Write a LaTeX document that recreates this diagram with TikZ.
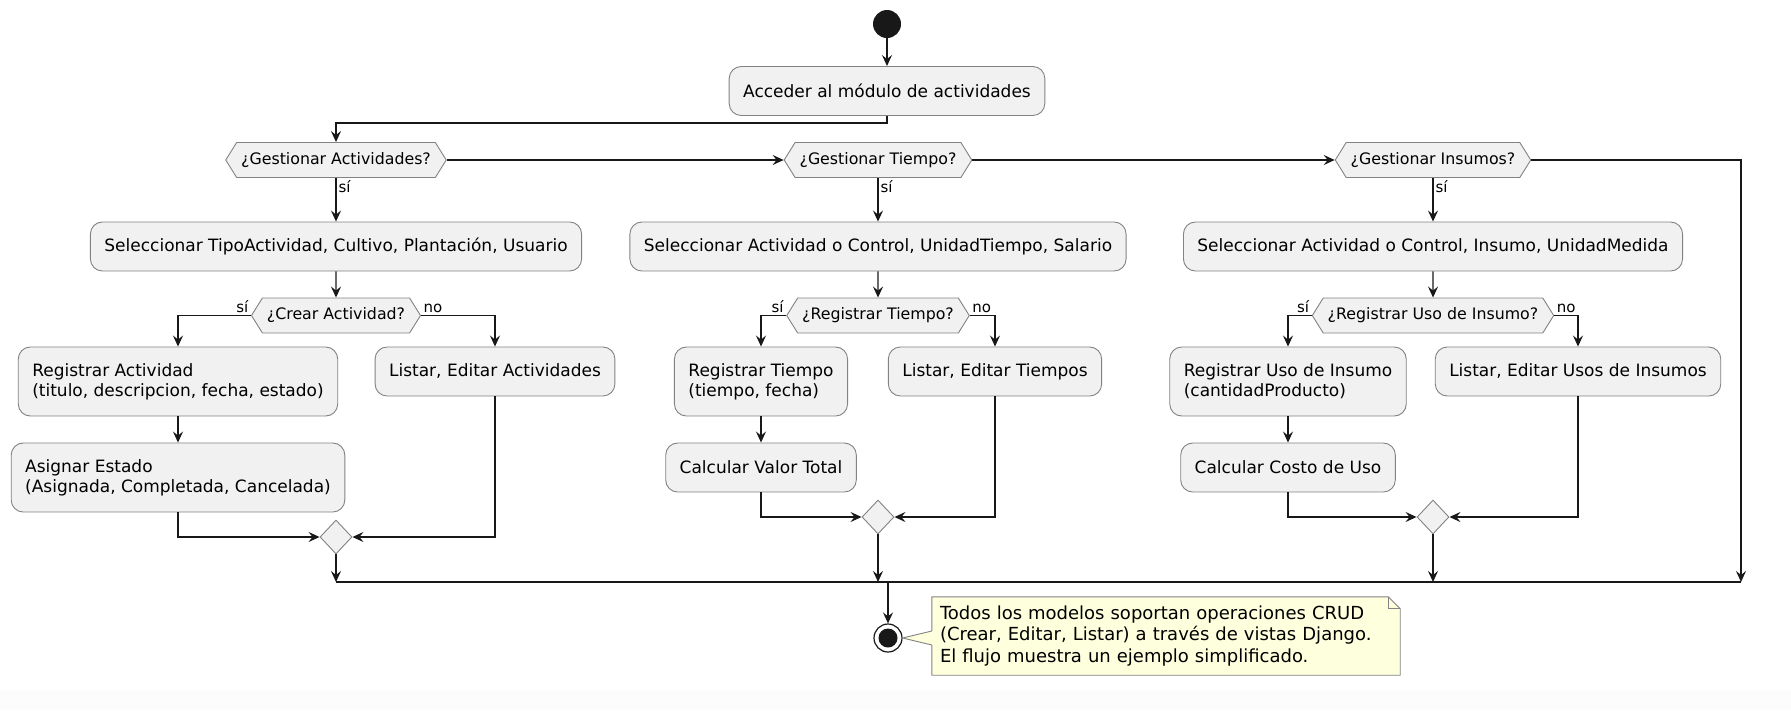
\documentclass[tikz,border=0pt]{standalone}
\usepackage{fontspec}
\setmainfont{DejaVu Sans}
\usetikzlibrary{calc, arrows.meta, positioning, shapes.geometric, shapes.symbols}

\tikzset{
    actbox/.style={rectangle, rounded corners=12pt, draw=boxline, line width=0.9pt, fill=boxfill,
        inner xsep=14pt, inner ysep=4pt, minimum height=49pt, font=\fontsize{17}{20}\selectfont},
    actboxtwo/.style={actbox, align=left, minimum height=69pt},
    question/.style={signal, signal to=east and west, signal pointer angle=116, draw=boxline,
        line width=0.9pt, fill=boxfill, inner xsep=4.5pt, inner ysep=2pt, minimum height=35pt,
        font=\fontsize{15.8}{18}\selectfont},
    merge/.style={diamond, draw=boxline, line width=0.9pt, fill=boxfill, minimum width=32pt,
        minimum height=34pt, inner sep=0pt},
    flow/.style={draw=flowline, line width=1.3pt, -{Stealth[length=11pt,width=10pt,inset=4pt]}},
    plain/.style={draw=flowline, line width=1.3pt},
    guard/.style={font=\fontsize{15}{17}\selectfont, inner sep=2pt},
    notebox/.style={rectangle, fill=notefill, text width=452pt, align=left, inner xsep=8pt,
        minimum height=78pt, font=\fontsize{18}{21.4}\selectfont}
}

\begin{document}
\begin{tikzpicture}[x=1pt, y=-1pt]
        \definecolor{boxfill}{RGB}{241, 241, 241}
        \definecolor{boxline}{RGB}{130, 130, 130}
        \definecolor{flowline}{RGB}{24, 24, 24}
        \definecolor{notefill}{RGB}{254, 255, 221}
        \useasboundingbox (0,0) rectangle (1791,710);
        \fill[black!1] (0,690) rectangle (1791,710);

        \node[circle, fill=flowline, minimum size=28pt, inner sep=0pt] (start) at (887,24) {};
        \node[actbox] (acc) at (887,91) {Acceder al módulo de actividades};

        \node[question] (ga) at (336,160) {¿Gestionar Actividades?};
        \node[question] (gt) at (878,160) {¿Gestionar Tiempo?};
        \node[question] (gi) at (1433,160) {¿Gestionar Insumos?};

        \node[actbox] (sa) at (336,246.5) {Seleccionar TipoActividad, Cultivo, Plantación, Usuario};
        \node[actbox] (st) at (878,246.5) {Seleccionar Actividad o Control, UnidadTiempo, Salario};
        \node[actbox] (si) at (1433,246.5) {Seleccionar Actividad o Control, Insumo, UnidadMedida};

        \node[question] (ca) at (336,315.5) {¿Crear Actividad?};
        \node[question] (rt) at (878,315.5) {¿Registrar Tiempo?};
        \node[question] (ru) at (1433,315.5) {¿Registrar Uso de Insumo?};

        \node[actboxtwo] (ra) at (178,381.5) {Registrar Actividad\\(titulo, descripcion, fecha, estado)};
        \node[actbox] (la) at (495,371.5) {Listar, Editar Actividades};
        \node[actboxtwo] (ae) at (178,477.5) {Asignar Estado\\(Asignada, Completada, Cancelada)};
        \node[merge] (ma) at (336,537) {};

        \node[actboxtwo] (rti) at (761,381.5) {Registrar Tiempo\\(tiempo, fecha)};
        \node[actbox] (lt) at (995,371.5) {Listar, Editar Tiempos};
        \node[actbox] (cv) at (761,467.5) {Calcular Valor Total};
        \node[merge] (mt) at (878,517) {};

        \node[actboxtwo] (ri) at (1288,381.5) {Registrar Uso de Insumo\\(cantidadProducto)};
        \node[actbox] (lu) at (1578,371.5) {Listar, Editar Usos de Insumos};
        \node[actbox] (cc) at (1288,467.5) {Calcular Costo de Uso};
        \node[merge] (mi) at (1433,517) {};

        \coordinate (barl) at (336,582);
        \coordinate (barr) at (1741,582);
        \node[circle, draw=flowline, line width=1.2pt, fill=white, minimum size=28pt, inner sep=0pt] (end) at (888,638) {};
        \fill[flowline] (end) circle (9.5);

        \draw[flow] (start) -- (acc);
        \draw[flow] (acc.south) -- ++(0,7) -| (ga.north);
        \draw[flow] (ga.east) -- (gt.west);
        \draw[flow] (gt.east) -- (gi.west);
        \draw[flow] (gi.east) -| (barr);

        \draw[flow] (ga.south) -- node[guard, anchor=north west, pos=0] {sí} (sa.north);
        \draw[flow] (gt.south) -- node[guard, anchor=north west, pos=0] {sí} (st.north);
        \draw[flow] (gi.south) -- node[guard, anchor=north west, pos=0] {sí} (si.north);
        \draw[flow] (sa) -- (ca);
        \draw[flow] (st) -- (rt);
        \draw[flow] (si) -- (ru);

        \draw[flow] (ca.west) -| node[guard, anchor=south east, pos=0] {sí} (ra.north);
        \draw[flow] (ca.east) -| node[guard, anchor=south west, pos=0] {no} (la.north);
        \draw[flow] (rt.west) -| node[guard, anchor=south east, pos=0] {sí} (rti.north);
        \draw[flow] (rt.east) -| node[guard, anchor=south west, pos=0] {no} (lt.north);
        \draw[flow] (ru.west) -| node[guard, anchor=south east, pos=0] {sí} (ri.north);
        \draw[flow] (ru.east) -| node[guard, anchor=south west, pos=0] {no} (lu.north);

        \draw[flow] (ra) -- (ae);
        \draw[flow] (rti) -- (cv);
        \draw[flow] (ri) -- (cc);
        \draw[flow] (ae.south) |- (ma.west);
        \draw[flow] (la.south) |- (ma.east);
        \draw[flow] (cv.south) |- (mt.west);
        \draw[flow] (lt.south) |- (mt.east);
        \draw[flow] (cc.south) |- (mi.west);
        \draw[flow] (lu.south) |- (mi.east);

        \draw[flow] (ma.south) -- (ma |- barl);
        \draw[flow] (mt.south) -- (mt |- barl);
        \draw[flow] (mi.south) -- (mi |- barl);
        \draw[plain] (barl) -- (barr);
        \draw[flow] (end |- barl) -- (end.north);

        \node[notebox] (note) at (1166,636) {Todos los modelos soportan operaciones CRUD\\(Crear, Editar, Listar) a través de vistas Django.\\El flujo muestra un ejemplo simplificado.};
        \fill[white] ([xshift=-12pt]note.north east) -- (note.north east) -- ([yshift=-12pt]note.north east) -- cycle;
        \draw[boxline, line width=0.9pt] (note.north west) -- ([xshift=-12pt]note.north east) -- ([yshift=-12pt]note.north east)
            -- (note.south east) -- (note.south west) -- cycle;
        \draw[boxline, line width=0.9pt] ([xshift=-12pt]note.north east) |- ([yshift=-12pt]note.north east);
        \fill[notefill] ($(note.west |- end)+(1,-7)$) -- (end.east) -- ($(note.west |- end)+(1,7)$) -- cycle;
        \draw[boxline, line width=0.9pt] ($(note.west |- end)+(0,-7)$) -- (end.east) -- ($(note.west |- end)+(0,7)$);
    \end{tikzpicture}
\end{document}
